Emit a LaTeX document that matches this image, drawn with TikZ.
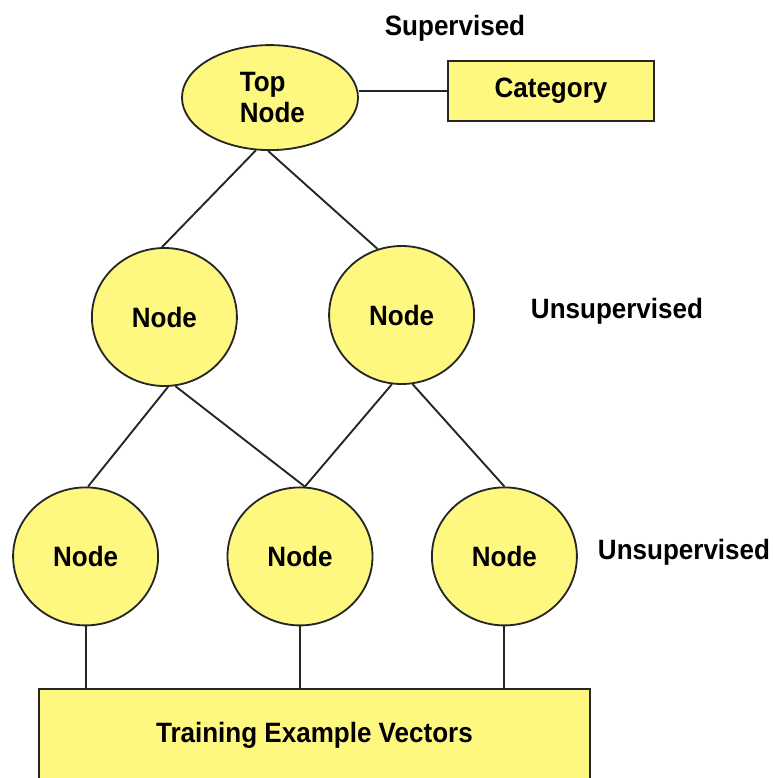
\documentclass[tikz,border=0pt]{standalone}
\usepackage{fontspec}
\setmainfont[FakeStretch=0.93]{Liberation Sans}
\usetikzlibrary{shapes.geometric}
\begin{document}
\begin{tikzpicture}[
  every node/.style={font=\fontsize{19.9}{22}\selectfont\bfseries},
  unit/.style={ellipse, draw=black!85, line width=1.3pt, fill=yellow!50!white, inner sep=0pt,
    minimum width=3.625cm, minimum height=3.45cm},
  box/.style={rectangle, draw=black!85, line width=1.3pt, fill=yellow!50!white, inner sep=0pt},
  link/.style={draw=black!85, line width=1.35pt}
]
\useasboundingbox (0,0) rectangle (19.325,-19.45);

% supervised layer
\node[unit, minimum width=4.4cm, minimum height=2.625cm, align=left] (top) at (6.75,-2.44) {\hspace*{0.12cm}Top\\\hspace*{0.12cm}Node};
\node[box, minimum width=5.15cm, minimum height=1.5cm] (cat) at (13.775,-2.275) {Category};
\node[yshift=-2pt] (sup) at (11.375,-0.625) {Supervised};

% first unsupervised layer
\node[unit] (ml) at (4.11,-7.925) {Node};
\node[unit] (mr) at (10.04,-7.875) {Node};
\node (unsupa) at (15.425,-7.775) {Unsupervised};

% second unsupervised layer
\node[unit] (bl) at (2.14,-13.91) {Node};
\node[unit] (bm) at (7.5,-13.91) {Node};
\node[unit] (br) at (12.61,-13.91) {Node};
\node (unsupb) at (17.1,-13.8) {Unsupervised};

% input vectors
\node[box, minimum width=13.775cm, minimum height=2.325cm] (train) at (7.86,-18.39) {Training Example Vectors};

% connections
\draw[link] (cat.west) -- (cat.west -| top.east);
\draw[link] (top.255) -- (ml.92);
\draw[link] (top.268) -- (mr.110);
\draw[link] (ml.273) -- (bl.88);
\draw[link] (ml.279) -- (bm.86);
\draw[link] (mr.262) -- (bm.86);
\draw[link] (mr.279) -- (br.90);
\draw[link] (bl.south) -- (bl.south |- train.north);
\draw[link] (bm.south) -- (bm.south |- train.north);
\draw[link] (br.south) -- (br.south |- train.north);
\end{tikzpicture}
\end{document}
